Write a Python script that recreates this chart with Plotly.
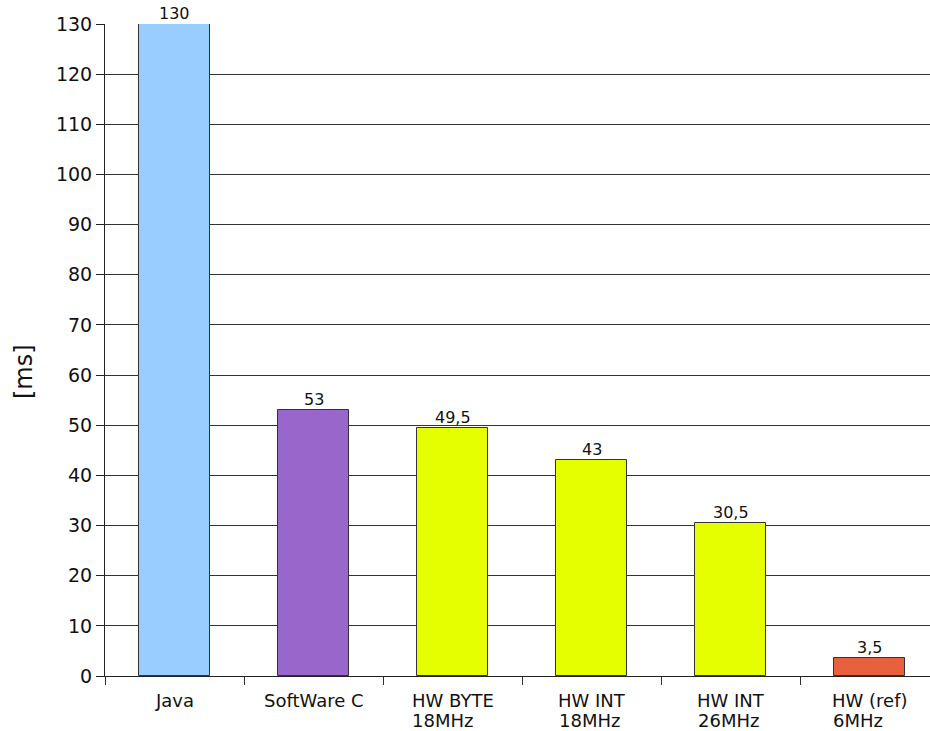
import plotly.graph_objects as go

categories = ["Java", "SoftWare C", "HW BYTE\n18MHz", "HW INT\n18MHz", "HW INT\n26MHz", "HW (ref)\n6MHz"]
values = [130, 53, 49.5, 43, 30.5, 3.5]
value_labels = ["130", "53", "49,5", "43", "30,5", "3,5"]
colors = ["#99ccff", "#9966cc", "#e6ff00", "#e6ff00", "#e6ff00", "#e8603e"]
y_ticks = list(range(0, 131, 10))

xs = list(range(len(categories)))

# DejaVu Sans advance widths (em) for first-line width estimation (left-aligned second lines)
W = {"H": .752, "W": .989, " ": .318, "B": .686, "Y": .611, "T": .611, "E": .632,
     "I": .295, "N": .748, "(": .390, ")": .390, "r": .411, "e": .615, "f": .352}
LABEL_FS = 18


def text_width(s):
    return sum(W.get(ch, .6) for ch in s) * LABEL_FS


fig = go.Figure()
fig.add_trace(go.Bar(
    x=xs,
    y=values,
    marker=dict(color=colors, line=dict(color="#333333", width=1)),
    width=0.504,
    cliponaxis=False,
))

for i, (v, t) in enumerate(zip(values, value_labels)):
    fig.add_annotation(
        x=i, y=v, xref="x", yref="y",
        text=t, showarrow=False,
        xanchor="center", yanchor="bottom", yshift=-1,
        font=dict(size=16, color="#111", family="DejaVu Sans"),
    )

for i, c in enumerate(categories):
    lines = c.split("\n")
    fig.add_annotation(
        x=i, y=0, xref="x", yref="paper",
        text=lines[0], showarrow=False,
        xanchor="center", yanchor="top", yshift=-12,
        font=dict(size=LABEL_FS, color="#111", family="DejaVu Sans"),
    )
    if len(lines) > 1:
        fig.add_annotation(
            x=i, y=0, xref="x", yref="paper",
            text=lines[1], showarrow=False,
            xanchor="left", yanchor="top", yshift=-32,
            xshift=-text_width(lines[0]) / 2 - 1,
            font=dict(size=LABEL_FS, color="#111", family="DejaVu Sans"),
        )

fig.add_annotation(
    x=(24 - 105) / 825, y=(731 - 55 - 372) / 652, xref="paper", yref="paper",
    xanchor="center", yanchor="middle",
    text="[ms]", showarrow=False, textangle=-90,
    font=dict(size=24, color="#111", family="DejaVu Sans"),
)

fig.update_layout(
    width=930, height=731,
    margin=dict(l=105, r=0, t=24, b=55),
    plot_bgcolor="white", paper_bgcolor="white",
    showlegend=False,
    bargap=0,
    font=dict(family="DejaVu Sans", color="#111"),
)

fig.update_xaxes(
    range=[-0.5, 5.5 - 9 / 139],
    tickvals=[i - 0.5 for i in xs],
    showticklabels=False,
    ticks="outside", ticklen=8, tickcolor="#333", tickwidth=1,
    showline=True, linecolor="#222", linewidth=1,
    showgrid=False, zeroline=False,
)
fig.update_yaxes(
    range=[0, 130],
    tickvals=y_ticks,
    ticks="outside", ticklen=8, tickcolor="#222",
    tickfont=dict(size=19, color="#111"),
    showline=True, linecolor="#222", linewidth=1,
    showgrid=True, gridcolor="#333333", gridwidth=1,
    zeroline=False,
)

fig.write_html("out.html")
